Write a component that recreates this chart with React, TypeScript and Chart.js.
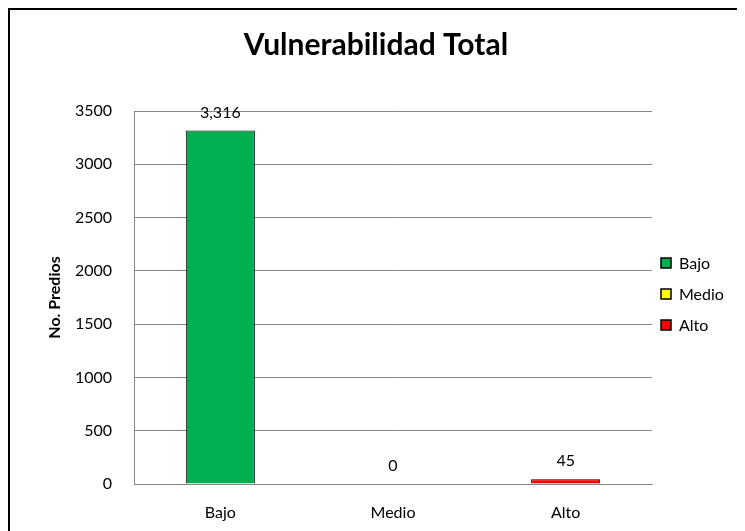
import React, { useEffect, useRef } from "react";
import { Chart, registerables } from "chart.js";

Chart.register(...registerables);

const categories = ["Bajo", "Medio", "Alto"];
const values = [3316, 0, 45];
const barColors = ["#00B050", "#FFFF00", "#FF0000"];
const yTicks = { min: 0, max: 3500, step: 500 };
const titleText = "Vulnerabilidad Total";
const yAxisTitle = "No. Predios";

const FONT = "Lato, 'Open Sans', sans-serif";

const overlayPlugin = {
  id: "overlay",
  afterDraw(chart: any) {
    const ctx = chart.ctx;
    ctx.save();
    // title
    ctx.fillStyle = "#000";
    ctx.font = `bold 30px ${FONT}`;
    ctx.textAlign = "center";
    ctx.textBaseline = "middle";
    ctx.fillText(titleText, 366, 35);
    // data labels
    const meta = chart.getDatasetMeta(0);
    ctx.font = `16px ${FONT}`;
    meta.data.forEach((el: any, i: number) => {
      const label = values[i].toLocaleString("en-US");
      ctx.fillText(label, el.x, el.y - 18);
    });
    // legend
    ctx.textAlign = "left";
    ctx.font = `16px ${FONT}`;
    categories.forEach((c, i) => {
      const cy = 253 + i * 31;
      ctx.fillStyle = barColors[i];
      ctx.fillRect(651, cy - 5, 10, 10);
      ctx.strokeStyle = "#000";
      ctx.lineWidth = 1.5;
      ctx.strokeRect(651, cy - 5, 10, 10);
      ctx.fillStyle = "#000";
      ctx.fillText(c, 669, cy + 1);
    });
    ctx.restore();
  },
};

export default function App() {
  const ref = useRef<HTMLCanvasElement>(null);
  useEffect(() => {
    document.documentElement.style.overflow = "hidden";
    document.body.style.overflow = "hidden";
    const chart = new Chart(ref.current!, {
      type: "bar",
      data: {
        labels: categories,
        datasets: [
          {
            data: values,
            backgroundColor: barColors,
            borderColor: "#000",
            borderWidth: values.map((v) => (v === 0 ? 0 : 1)),
            borderSkipped: "start",
            barPercentage: 0.4,
            categoryPercentage: 1,
          },
        ],
      },
      options: {
        responsive: false,
        animation: false,
        devicePixelRatio: 1,
        layout: { padding: { top: 101, right: 93, left: 0, bottom: 0 } },
        plugins: {
          legend: { display: false },
          title: { display: false },
          tooltip: { enabled: false },
        },
        scales: {
          x: {
            grid: { display: false, drawTicks: false },
            border: { display: true, color: "#868686", width: 1 },
            ticks: { color: "#000", font: { family: FONT, size: 16 }, padding: 19 },
            afterFit: (s: any) => {
              s.height = 47;
            },
          },
          y: {
            min: yTicks.min,
            max: yTicks.max,
            grid: { color: "#868686", drawTicks: false },
            border: { display: true, color: "#868686", width: 1 },
            ticks: {
              stepSize: yTicks.step,
              color: "#000",
              font: { family: FONT, size: 16 },
              padding: 22,
              callback: (v: any) => String(v),
            },
            title: {
              display: true,
              text: yAxisTitle,
              color: "#000",
              font: { family: FONT, size: 16, weight: "bold" },
              padding: { top: 35, bottom: 0 },
            },
            afterFit: (s: any) => {
              s.width = 124;
            },
          },
        },
      },
      plugins: [overlayPlugin],
    });
    return () => chart.destroy();
  }, []);
  return (
    <div
      style={{
        width: 760,
        height: 560,
        border: "2px solid #000",
        boxSizing: "border-box",
        background: "#fff",
      }}
    >
      <canvas ref={ref} width={735} height={521} style={{ display: "block", width: 735, height: 521 }} />
    </div>
  );
}
